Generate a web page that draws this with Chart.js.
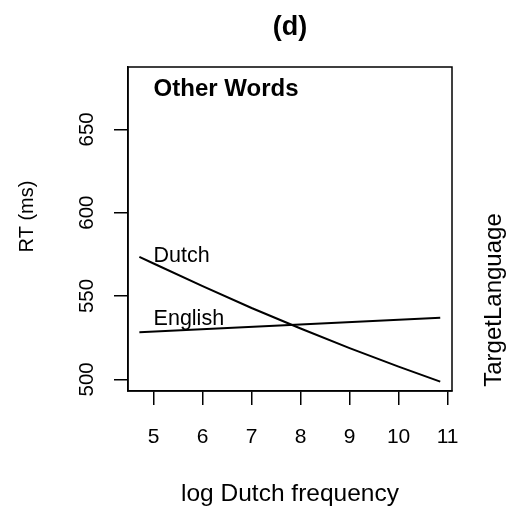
<!DOCTYPE html>
<html>
<head>
<meta charset="utf-8">
<script src="https://cdn.jsdelivr.net/npm/chart.js@4"></script>
<style>
  html, body { margin: 0; padding: 0; background: #fff; }
</style>
</head>
<body>
<canvas id="rtChart" width="513" height="516"></canvas>
<script>
// values
const dutchFreq = [4.71, 5, 6, 7, 8, 9, 10, 10.85];
const dutchRT = [573.5, 569.5, 555.9, 542.8, 530.5, 518.7, 507.6, 498.6];
const englishFreq = [4.71, 10.85];
const englishRT = [528.2, 537.0];

const xTicks = [5, 6, 7, 8, 9, 10, 11];
const yTicks = [500, 550, 600, 650];

const FONT = '"Liberation Sans", Arial, Helvetica, sans-serif';
const ink = '#000';

function toPoints(xs, ys) {
    return xs.map((x, i) => ({ x: x, y: ys[i] }));
}

// box, rotated labels and in-plot text (R style)
const rDecor = {
    id: 'rDecor',
    afterDraw(chart) {
        const { ctx, chartArea: a, scales } = chart;
        ctx.save();
        ctx.strokeStyle = ink;
        ctx.lineWidth = 1.5;
        ctx.strokeRect(a.left, a.top, a.right - a.left, a.bottom - a.top);

        ctx.fillStyle = ink;
        ctx.textAlign = 'center';
        ctx.textBaseline = 'alphabetic';

        // y tick labels, reading bottom to top
        ctx.font = '20.5px ' + FONT;
        yTicks.forEach(v => {
            ctx.save();
            ctx.translate(93, scales.y.getPixelForValue(v));
            ctx.rotate(-Math.PI / 2);
            ctx.fillText(String(v), 0, 0);
            ctx.restore();
        });

        // y axis title
        ctx.save();
        ctx.translate(33, 216.5);
        ctx.rotate(-Math.PI / 2);
        ctx.font = '20px ' + FONT;
        ctx.fillText('RT (ms)', 0, 0);
        ctx.restore();

        // legend title on the right
        ctx.save();
        ctx.translate(501, 300);
        ctx.rotate(-Math.PI / 2);
        ctx.font = '24px ' + FONT;
        ctx.fillText('TargetLanguage', 0, 0);
        ctx.restore();

        // text inside the plot
        ctx.textAlign = 'left';
        const x5 = scales.x.getPixelForValue(5);
        ctx.font = 'bold 24px ' + FONT;
        ctx.fillText('Other Words', x5, scales.y.getPixelForValue(670));
        ctx.font = '21.5px ' + FONT;
        ctx.fillText('Dutch', x5, scales.y.getPixelForValue(570.5));
        ctx.fillText('English', x5, scales.y.getPixelForValue(532.6));
        ctx.restore();
    }
};

const ctx = document.getElementById('rtChart').getContext('2d');

new Chart(ctx, {
    type: 'scatter',
    data: {
        datasets: [
            {
                label: 'Dutch',
                data: toPoints(dutchFreq, dutchRT),
                showLine: true,
                borderColor: ink,
                borderWidth: 2,
                pointRadius: 0,
                tension: 0
            },
            {
                label: 'English',
                data: toPoints(englishFreq, englishRT),
                showLine: true,
                borderColor: ink,
                borderWidth: 2,
                pointRadius: 0,
                tension: 0
            }
        ]
    },
    options: {
        responsive: false,
        animation: false,
        layout: { padding: { left: 0, right: 61, top: 0, bottom: 0 } },
        plugins: {
            legend: { display: false },
            tooltip: { enabled: false },
            title: {
                display: true,
                text: '(d)',
                color: ink,
                fullSize: false,
                font: { family: FONT, size: 27, weight: 'bold' },
                padding: { top: 11, bottom: 23.6 }
            }
        },
        scales: {
            x: {
                type: 'linear',
                min: 4.478,
                max: 11.09,
                afterBuildTicks(scale) {
                    scale.ticks = xTicks.map(v => ({ value: v }));
                },
                afterFit(scale) { scale.height = 125; },
                ticks: {
                    color: ink,
                    padding: 20,
                    maxRotation: 0,
                    font: { family: FONT, size: 21 },
                    callback: v => String(v)
                },
                grid: {
                    drawOnChartArea: false,
                    drawTicks: true,
                    tickLength: 14,
                    color: ink,
                    lineWidth: 1.5
                },
                border: { display: true, color: ink, width: 1.5 },
                title: {
                    display: true,
                    text: 'log Dutch frequency',
                    color: ink,
                    font: { family: FONT, size: 24.5 },
                    padding: { top: 0, bottom: 7 }
                }
            },
            y: {
                type: 'linear',
                min: 493,
                max: 687.4,
                afterBuildTicks(scale) {
                    scale.ticks = yTicks.map(v => ({ value: v }));
                },
                afterFit(scale) { scale.width = 128; },
                ticks: { display: false },
                grid: {
                    drawOnChartArea: false,
                    drawTicks: true,
                    tickLength: 14,
                    color: ink,
                    lineWidth: 1.5
                },
                border: { display: true, color: ink, width: 1.5 }
            }
        }
    },
    plugins: [rDecor]
});
</script>
</body>
</html>
